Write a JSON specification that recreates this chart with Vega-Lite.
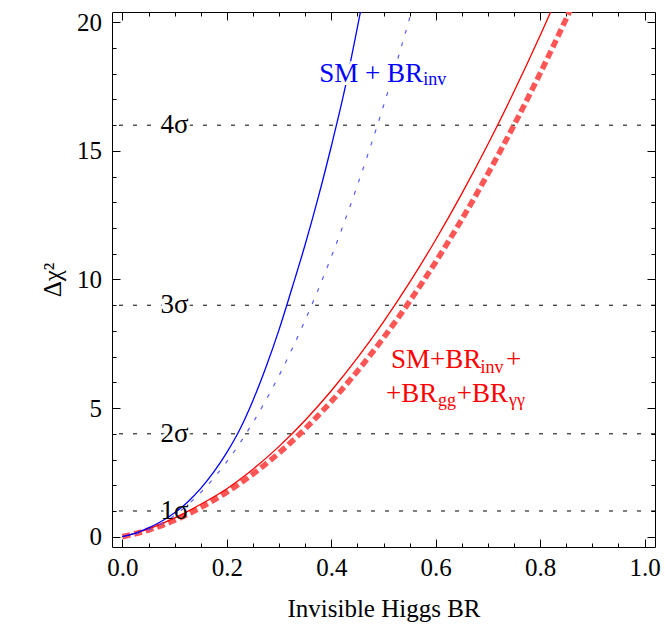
{
  "$schema": "https://vega.github.io/schema/vega-lite/v6.json",
  "width": 543,
  "height": 535,
  "autosize": {"type": "none"},
  "padding": {"left": 112, "top": 12, "right": 10, "bottom": 80},
  "background": "white",
  "config": {"view": {"stroke": null}, "font": "Liberation Serif"},
  "datasets": {
    "curves": [
      {"series": "redDash", "x": 0, "chi2": 0},
      {"series": "redDash", "x": 0.05, "chi2": 0.26},
      {"series": "redDash", "x": 0.1, "chi2": 0.64},
      {"series": "redDash", "x": 0.15, "chi2": 1.14},
      {"series": "redDash", "x": 0.2, "chi2": 1.735},
      {"series": "redDash", "x": 0.25, "chi2": 2.437},
      {"series": "redDash", "x": 0.3, "chi2": 3.258},
      {"series": "redDash", "x": 0.35, "chi2": 4.198},
      {"series": "redDash", "x": 0.4, "chi2": 5.257},
      {"series": "redDash", "x": 0.45, "chi2": 6.436},
      {"series": "redDash", "x": 0.5, "chi2": 7.733},
      {"series": "redDash", "x": 0.55, "chi2": 9.149},
      {"series": "redDash", "x": 0.6, "chi2": 10.684},
      {"series": "redDash", "x": 0.65, "chi2": 12.338},
      {"series": "redDash", "x": 0.7, "chi2": 14.111},
      {"series": "redDash", "x": 0.75, "chi2": 16.003},
      {"series": "redDash", "x": 0.8, "chi2": 18.014},
      {"series": "redDash", "x": 0.85, "chi2": 20.144},
      {"series": "redDash", "x": 0.9, "chi2": 22.39},
      {"series": "red", "x": 0, "chi2": 0},
      {"series": "red", "x": 0.05, "chi2": 0.3},
      {"series": "red", "x": 0.1, "chi2": 0.73},
      {"series": "red", "x": 0.15, "chi2": 1.26},
      {"series": "red", "x": 0.2, "chi2": 1.867},
      {"series": "red", "x": 0.25, "chi2": 2.625},
      {"series": "red", "x": 0.3, "chi2": 3.513},
      {"series": "red", "x": 0.35, "chi2": 4.529},
      {"series": "red", "x": 0.4, "chi2": 5.675},
      {"series": "red", "x": 0.45, "chi2": 6.949},
      {"series": "red", "x": 0.5, "chi2": 8.353},
      {"series": "red", "x": 0.55, "chi2": 9.885},
      {"series": "red", "x": 0.6, "chi2": 11.547},
      {"series": "red", "x": 0.65, "chi2": 13.338},
      {"series": "red", "x": 0.7, "chi2": 15.257},
      {"series": "red", "x": 0.75, "chi2": 17.306},
      {"series": "red", "x": 0.8, "chi2": 19.483},
      {"series": "red", "x": 0.85, "chi2": 21.79},
      {"series": "blueDash", "x": 0, "chi2": 0},
      {"series": "blueDash", "x": 0.05, "chi2": 0.26},
      {"series": "blueDash", "x": 0.1, "chi2": 0.83},
      {"series": "blueDash", "x": 0.15, "chi2": 1.72},
      {"series": "blueDash", "x": 0.2, "chi2": 2.92},
      {"series": "blueDash", "x": 0.25, "chi2": 4.44},
      {"series": "blueDash", "x": 0.3, "chi2": 6.27},
      {"series": "blueDash", "x": 0.35, "chi2": 8.42},
      {"series": "blueDash", "x": 0.4, "chi2": 10.88},
      {"series": "blueDash", "x": 0.45, "chi2": 13.66},
      {"series": "blueDash", "x": 0.5, "chi2": 16.75},
      {"series": "blueDash", "x": 0.55, "chi2": 20.16},
      {"series": "blueDash", "x": 0.6, "chi2": 23.88},
      {"series": "blue", "x": 0, "chi2": 0},
      {"series": "blue", "x": 0.025, "chi2": 0.14},
      {"series": "blue", "x": 0.05, "chi2": 0.34},
      {"series": "blue", "x": 0.075, "chi2": 0.6},
      {"series": "blue", "x": 0.1, "chi2": 0.93},
      {"series": "blue", "x": 0.125, "chi2": 1.35},
      {"series": "blue", "x": 0.15, "chi2": 1.88},
      {"series": "blue", "x": 0.175, "chi2": 2.52},
      {"series": "blue", "x": 0.2, "chi2": 3.28},
      {"series": "blue", "x": 0.225, "chi2": 4.18},
      {"series": "blue", "x": 0.25, "chi2": 5.3},
      {"series": "blue", "x": 0.275, "chi2": 6.6},
      {"series": "blue", "x": 0.3, "chi2": 8.05},
      {"series": "blue", "x": 0.325, "chi2": 9.68},
      {"series": "blue", "x": 0.35, "chi2": 11.36},
      {"series": "blue", "x": 0.375, "chi2": 13.19},
      {"series": "blue", "x": 0.4, "chi2": 15.18},
      {"series": "blue", "x": 0.425, "chi2": 17.32},
      {"series": "blue", "x": 0.45, "chi2": 19.8},
      {"series": "blue", "x": 0.475, "chi2": 22.4}
    ],
    "levels": [
      {"level": 1, "label": "1σ", "lx": 0.1},
      {"level": 4, "label": "2σ", "lx": 0.1},
      {"level": 9, "label": "3σ", "lx": 0.1},
      {"level": 16, "label": "4σ", "lx": 0.1}
    ],
    "labels": [
      {"series": "blue", "kind": "main", "x": 0.377, "y": 17.68, "text": "SM + BR"},
      {"series": "blue", "kind": "sub", "x": 0.576, "y": 17.55, "text": "inv"},
      {"series": "red", "kind": "main", "x": 0.5143, "y": 6.545, "text": "SM+BR"},
      {"series": "red", "kind": "sub", "x": 0.686, "y": 6.35, "text": "inv"},
      {"series": "red", "kind": "main", "x": 0.7344, "y": 6.545, "text": "+"},
      {"series": "red", "kind": "main", "x": 0.5047, "y": 5.247, "text": "+BR"},
      {"series": "red", "kind": "sub", "x": 0.6045, "y": 5.08, "text": "gg"},
      {"series": "red", "kind": "main", "x": 0.6405, "y": 5.247, "text": "+BR"},
      {"series": "red", "kind": "sub", "x": 0.7405, "y": 5.08, "text": "γγ"}
    ]
  },
  "resolve": {"axis": {"x": "independent", "y": "independent"}},
  "layer": [
    {
      "data": {"name": "levels"},
      "mark": {"type": "rule", "color": "black", "strokeWidth": 1, "strokeDash": [4, 10]},
      "encoding": {
        "y": {"field": "level", "type": "quantitative", "scale": {"domain": [-0.4, 20.4], "nice": false, "zero": false}, "axis": null}
      }
    },
    {
      "data": {"name": "levels"},
      "mark": {"type": "text", "fontSize": 27, "align": "center", "baseline": "alphabetic", "dy": 8, "fill": "white", "stroke": "white", "strokeWidth": 6},
      "encoding": {
        "x": {"field": "lx", "type": "quantitative", "scale": {"domain": [-0.02, 1.02], "nice": false, "zero": false}, "axis": null},
        "y": {"field": "level", "type": "quantitative", "scale": {"domain": [-0.4, 20.4], "nice": false, "zero": false}, "axis": null},
        "text": {"field": "label"}
      }
    },
    {
      "data": {"name": "curves"},
      "transform": [{"filter": "datum.series == 'redDash'"}],
      "mark": {"type": "line", "clip": true, "interpolate": "monotone", "color": "#ff5555", "strokeWidth": 5.5, "strokeDash": [8, 4]},
      "encoding": {
        "x": {"field": "x", "type": "quantitative", "scale": {"domain": [-0.02, 1.02], "nice": false, "zero": false}, "axis": null},
        "y": {"field": "chi2", "type": "quantitative", "scale": {"domain": [-0.4, 20.4], "nice": false, "zero": false}, "axis": null},
        "order": {"field": "x", "type": "quantitative"}
      }
    },
    {
      "data": {"name": "curves"},
      "transform": [{"filter": "datum.series == 'red'"}],
      "mark": {"type": "line", "clip": true, "interpolate": "monotone", "color": "#ff0000", "strokeWidth": 1.3},
      "encoding": {
        "x": {"field": "x", "type": "quantitative", "scale": {"domain": [-0.02, 1.02], "nice": false, "zero": false}, "axis": null},
        "y": {"field": "chi2", "type": "quantitative", "scale": {"domain": [-0.4, 20.4], "nice": false, "zero": false}, "axis": null},
        "order": {"field": "x", "type": "quantitative"}
      }
    },
    {
      "data": {"name": "curves"},
      "transform": [{"filter": "datum.series == 'blueDash'"}],
      "mark": {"type": "line", "clip": true, "interpolate": "monotone", "color": "#5a5aff", "strokeWidth": 1.2, "strokeDash": [4, 9]},
      "encoding": {
        "x": {"field": "x", "type": "quantitative", "scale": {"domain": [-0.02, 1.02], "nice": false, "zero": false}, "axis": null},
        "y": {"field": "chi2", "type": "quantitative", "scale": {"domain": [-0.4, 20.4], "nice": false, "zero": false}, "axis": null},
        "order": {"field": "x", "type": "quantitative"}
      }
    },
    {
      "data": {"name": "curves"},
      "transform": [{"filter": "datum.series == 'blue'"}],
      "mark": {"type": "line", "clip": true, "interpolate": "monotone", "color": "#0000ff", "strokeWidth": 1.3},
      "encoding": {
        "x": {
          "field": "x", "type": "quantitative",
          "scale": {"domain": [-0.02, 1.02], "nice": false, "zero": false},
          "axis": {
            "orient": "bottom",
            "values": [0, 0.05, 0.1, 0.15, 0.2, 0.25, 0.3, 0.35, 0.4, 0.45, 0.5, 0.55, 0.6, 0.65, 0.7, 0.75, 0.8, 0.85, 0.9, 0.95, 1],
            "labelExpr": "abs(datum.value*5 - round(datum.value*5)) < 0.001 ? format(datum.value, '.1f') : ''",
            "tickSize": {"condition": {"test": "abs(datum.value*5 - round(datum.value*5)) < 0.001", "value": -8}, "value": -4},
            "tickColor": "black", "tickWidth": 1,
            "domainColor": "black", "domainWidth": 1,
            "labelFont": "Liberation Serif", "labelFontSize": 25, "labelColor": "black",
            "labelPadding": 16.5, "labelOverlap": false, "labelFlush": false,
            "grid": false,
            "title": "Invisible Higgs BR", "titleFont": "Liberation Serif", "titleFontSize": 25, "titleFontWeight": "normal", "titleColor": "black", "titlePadding": 12
          }
        },
        "y": {
          "field": "chi2", "type": "quantitative",
          "scale": {"domain": [-0.4, 20.4], "nice": false, "zero": false},
          "axis": {
            "orient": "left",
            "values": [0, 1, 2, 3, 4, 5, 6, 7, 8, 9, 10, 11, 12, 13, 14, 15, 16, 17, 18, 19, 20],
            "labelExpr": "datum.value % 5 == 0 ? format(datum.value, 'd') : ''",
            "tickSize": {"condition": {"test": "datum.value % 5 == 0", "value": -8}, "value": -4},
            "tickColor": "black", "tickWidth": 1,
            "domainColor": "black", "domainWidth": 1,
            "labelFont": "Liberation Serif", "labelFontSize": 25, "labelColor": "black",
            "labelPadding": 18.6, "labelOverlap": false, "labelFlush": false,
            "grid": false,
            "title": "Δχ²", "titleFont": "Liberation Serif", "titleFontSize": 25, "titleFontWeight": "normal", "titleColor": "black", "titlePadding": 11
          }
        },
        "order": {"field": "x", "type": "quantitative"}
      }
    },
    {
      "data": {"name": "levels"},
      "mark": {"type": "text", "fontSize": 27, "align": "center", "baseline": "alphabetic", "dy": 8, "fill": "black"},
      "encoding": {
        "x": {
          "field": "lx", "type": "quantitative",
          "scale": {"domain": [-0.02, 1.02], "nice": false, "zero": false},
          "axis": {
            "orient": "top",
            "values": [0, 0.05, 0.1, 0.15, 0.2, 0.25, 0.3, 0.35, 0.4, 0.45, 0.5, 0.55, 0.6, 0.65, 0.7, 0.75, 0.8, 0.85, 0.9, 0.95, 1],
            "labels": false,
            "tickSize": {"condition": {"test": "abs(datum.value*5 - round(datum.value*5)) < 0.001", "value": -8}, "value": -4},
            "tickColor": "black", "tickWidth": 1,
            "domainColor": "black", "domainWidth": 1,
            "grid": false, "title": null
          }
        },
        "y": {
          "field": "level", "type": "quantitative",
          "scale": {"domain": [-0.4, 20.4], "nice": false, "zero": false},
          "axis": {
            "orient": "right",
            "values": [0, 1, 2, 3, 4, 5, 6, 7, 8, 9, 10, 11, 12, 13, 14, 15, 16, 17, 18, 19, 20],
            "labels": false,
            "tickSize": {"condition": {"test": "datum.value % 5 == 0", "value": -8}, "value": -4},
            "tickColor": "black", "tickWidth": 1,
            "domainColor": "black", "domainWidth": 1,
            "grid": false, "title": null
          }
        },
        "text": {"field": "label"}
      }
    },
    {
      "data": {"name": "labels"},
      "transform": [{"filter": "datum.kind == 'main' && datum.series == 'blue'"}],
      "mark": {"type": "text", "fontSize": 27, "align": "left", "baseline": "alphabetic", "fill": "white", "stroke": "white", "strokeWidth": 6},
      "encoding": {
        "x": {"field": "x", "type": "quantitative", "scale": {"domain": [-0.02, 1.02], "nice": false, "zero": false}, "axis": null},
        "y": {"field": "y", "type": "quantitative", "scale": {"domain": [-0.4, 20.4], "nice": false, "zero": false}, "axis": null},
        "text": {"field": "text"}
      }
    },
    {
      "data": {"name": "labels"},
      "transform": [{"filter": "datum.kind == 'main'"}],
      "mark": {"type": "text", "fontSize": 27, "align": "left", "baseline": "alphabetic"},
      "encoding": {
        "x": {"field": "x", "type": "quantitative", "scale": {"domain": [-0.02, 1.02], "nice": false, "zero": false}, "axis": null},
        "y": {"field": "y", "type": "quantitative", "scale": {"domain": [-0.4, 20.4], "nice": false, "zero": false}, "axis": null},
        "text": {"field": "text"},
        "color": {"field": "series", "type": "nominal", "scale": {"domain": ["blue", "red"], "range": ["#0000ff", "#ff0000"]}, "legend": null}
      }
    },
    {
      "data": {"name": "labels"},
      "transform": [{"filter": "datum.kind == 'sub'"}],
      "mark": {"type": "text", "fontSize": 18, "align": "left", "baseline": "alphabetic"},
      "encoding": {
        "x": {"field": "x", "type": "quantitative", "scale": {"domain": [-0.02, 1.02], "nice": false, "zero": false}, "axis": null},
        "y": {"field": "y", "type": "quantitative", "scale": {"domain": [-0.4, 20.4], "nice": false, "zero": false}, "axis": null},
        "text": {"field": "text"},
        "color": {"field": "series", "type": "nominal", "scale": {"domain": ["blue", "red"], "range": ["#0000ff", "#ff0000"]}, "legend": null}
      }
    }
  ]
}
